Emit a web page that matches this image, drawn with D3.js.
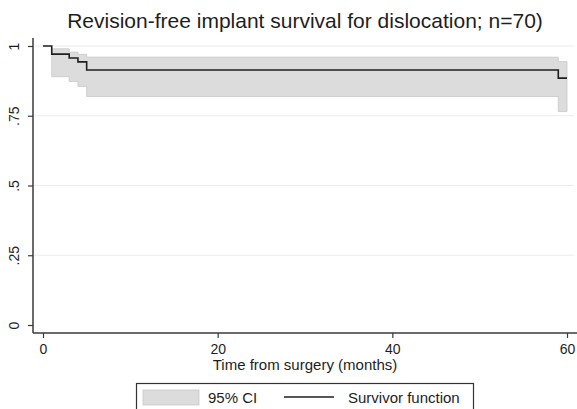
<!DOCTYPE html>
<html>
<head>
<meta charset="utf-8">
<script src="https://cdn.jsdelivr.net/npm/d3@7"></script>
<style>
  html, body { margin: 0; padding: 0; background: #fff; }
  svg { display: block; font-family: "Liberation Sans", Arial, Helvetica, sans-serif; }
</style>
</head>
<body>
<svg id="chart" width="577" height="409"></svg>
<script>
// Kaplan-Meier estimate: step times (months) and survivor function
const eventTimes = [0, 1, 3, 4, 5, 59];
const survival   = [1, 0.971, 0.957, 0.943, 0.914, 0.885];
// 95% confidence band (starts after the first event)
const ciTimes = [1, 3, 4, 5, 59];
const ciLower = [0.89, 0.873, 0.855, 0.819, 0.765];
const ciUpper = [0.99, 0.978, 0.97, 0.96, 0.944];
const followUpEnd = 60;

const xTicks = [0, 20, 40, 60];
const yTicks = [0, 0.25, 0.5, 0.75, 1];
const yTickLabels = ["0", ".25", ".5", ".75", "1"];

const titleText = "Revision-free implant survival for dislocation; n=70)";
const xTitle = "Time from surgery (months)";
const legendLabels = ["95% CI", "Survivor function"];

const svg = d3.select("#chart");

const x = d3.scaleLinear().domain([0, 60]).range([43, 567]);
const y = d3.scaleLinear().domain([0, 1]).range([325, 46]);

const axisColor = "#3a3a3a";
const gridColor = "#ececec";
const bandColor = "#dcdcdc";
const bandEdge = "#c8c8c8";
const textColor = "#1e1e1e";
const tickFont = 14;
const labelFont = 15;

// horizontal gridlines
svg.append("g")
  .selectAll("line")
  .data(yTicks.filter(d => d > 0))
  .join("line")
  .attr("x1", 34).attr("x2", 574)
  .attr("y1", d => y(d)).attr("y2", d => y(d))
  .attr("stroke", gridColor).attr("stroke-width", 1);

// confidence band as a step area
const bandPts = ciTimes.map((t, i) => ({ t, lo: ciLower[i], hi: ciUpper[i] }));
bandPts.push({ t: followUpEnd, lo: ciLower[ciLower.length - 1], hi: ciUpper[ciUpper.length - 1] });

const band = d3.area()
  .curve(d3.curveStepAfter)
  .x(d => x(d.t))
  .y0(d => y(d.lo))
  .y1(d => y(d.hi));

svg.append("path")
  .datum(bandPts)
  .attr("d", band)
  .attr("fill", bandColor)
  .attr("stroke", bandEdge)
  .attr("stroke-width", 0.8);

// survivor function
const survPts = eventTimes.map((t, i) => ({ t, s: survival[i] }));
survPts.push({ t: followUpEnd, s: survival[survival.length - 1] });

svg.append("path")
  .datum(survPts)
  .attr("d", d3.line().curve(d3.curveStepAfter).x(d => x(d.t)).y(d => y(d.s)))
  .attr("fill", "none")
  .attr("stroke", "#1e1e1e")
  .attr("stroke-width", 1.6);

// y axis
const yAxis = svg.append("g")
  .attr("transform", "translate(33,0)")
  .call(d3.axisLeft(y).tickValues(yTicks).tickSize(5).tickSizeOuter(0)
    .tickFormat((d, i) => yTickLabels[i]));
yAxis.select(".domain").attr("d", `M0,${y(1) - 8}V333`).attr("stroke", axisColor).attr("stroke-width", 1.5);
yAxis.selectAll(".tick line").attr("stroke", axisColor).attr("stroke-width", 1.2);
yAxis.selectAll(".tick text")
  .attr("x", 0).attr("y", 0)
  .attr("transform", "translate(-19,0) rotate(-90)")
  .attr("text-anchor", "middle")
  .attr("dy", "0.35em")
  .attr("font-size", tickFont)
  .attr("fill", textColor);

// x axis
const xAxis = svg.append("g")
  .attr("transform", "translate(0,333)")
  .call(d3.axisBottom(x).tickValues(xTicks).tickSize(5).tickSizeOuter(0));
xAxis.select(".domain").attr("d", "M33,0H577").attr("stroke", axisColor).attr("stroke-width", 1.5);
xAxis.selectAll(".tick line").attr("stroke", axisColor).attr("stroke-width", 1.2);
xAxis.selectAll(".tick text")
  .attr("y", 11)
  .attr("font-size", tickFont)
  .attr("fill", textColor);

// axis title
svg.append("text")
  .attr("x", 305).attr("y", 370)
  .attr("text-anchor", "middle")
  .attr("font-size", labelFont)
  .attr("fill", textColor)
  .text(xTitle);

// title
svg.append("text")
  .attr("x", 305).attr("y", 28)
  .attr("text-anchor", "middle")
  .attr("font-size", 21)
  .attr("fill", textColor)
  .text(titleText);

// legend
const lg = svg.append("g");
lg.append("rect")
  .attr("x", 136.5).attr("y", 383.5).attr("width", 337).attr("height", 40)
  .attr("fill", "#fff").attr("stroke", "#333").attr("stroke-width", 1.2);
lg.append("rect")
  .attr("x", 143).attr("y", 390).attr("width", 56).attr("height", 15)
  .attr("fill", bandColor).attr("stroke", bandEdge).attr("stroke-width", 0.8);
lg.append("text")
  .attr("x", 208).attr("y", 403)
  .attr("font-size", labelFont).attr("fill", textColor)
  .text(legendLabels[0]);
lg.append("line")
  .attr("x1", 284).attr("x2", 334).attr("y1", 397).attr("y2", 397)
  .attr("stroke", "#1e1e1e").attr("stroke-width", 1.4);
lg.append("text")
  .attr("x", 348).attr("y", 403)
  .attr("font-size", labelFont).attr("fill", textColor)
  .text(legendLabels[1]);
</script>
</body>
</html>
